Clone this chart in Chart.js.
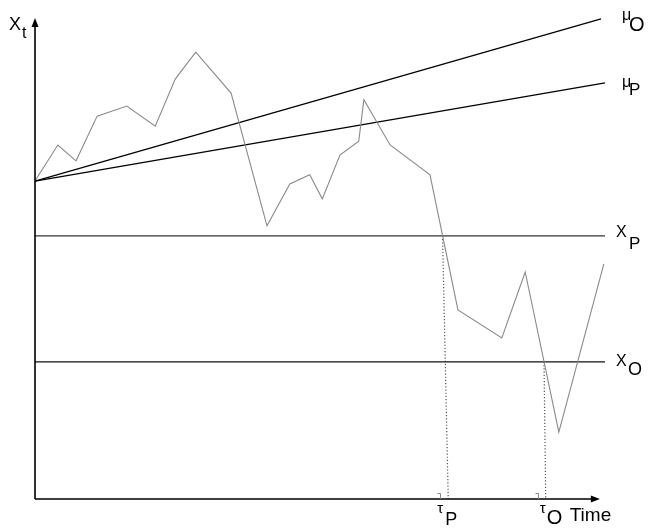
<!DOCTYPE html>
<html>
<head>
<meta charset="utf-8">
<title>Threshold crossing times</title>
<script src="https://cdn.jsdelivr.net/npm/chart.js@4/dist/chart.umd.min.js"></script>
<style>
  html, body { margin: 0; padding: 0; background: #fff; }
  canvas { display: block; }
</style>
</head>
<body>
<canvas id="chart" width="649" height="530"></canvas>
<script>
// Sample path of the process X_t over time
const pathTime  = [0, 4.0, 7.2, 10.9, 16.1, 21.1, 24.6, 28.2, 34.4, 40.7, 44.7, 48.2, 50.4, 53.5, 56.8, 57.7, 62.3, 69.3, 74.2, 81.9, 86.0, 91.9, 99.8];
const pathValue = [66.1, 73.6, 70.3, 79.6, 81.7, 77.5, 87.3, 92.9, 84.4, 56.8, 65.5, 67.4, 62.4, 71.5, 74.4, 83.0, 73.6, 67.4, 39.3, 33.5, 47.2, 13.9, 48.9];

// Drift lines mu_O and mu_P, both starting from X_0
const startValue = 66.1;
const muOEnd = [99.3, 99.8];   // [time, value]
const muPEnd = [100, 86.5];

// Thresholds X_P and X_O
const thresholdP = 54.7;
const thresholdO = 28.5;
const thresholdEnd = 100;

// First-passage times: [time at crossing, time at axis]
const tauP = [71.5, 72.5];
const tauO = [89.3, 89.6];

// Axis extent (arrow tips)
const axisEndTime = 99.1;
const axisEndValue = 100;

const FONT = '"Liberation Sans", Arial, Helvetica, sans-serif';

function line(points, color, width, dash) {
  return {
    data: points.map(p => ({ x: p[0], y: p[1] })),
    showLine: true,
    borderColor: color,
    borderWidth: width,
    borderDash: dash || [],
    pointRadius: 0,
    fill: false,
    tension: 0,
    clip: false
  };
}

const pathPoints = pathTime.map((t, i) => [t, pathValue[i]]);

const annotations = {
  id: 'annotations',
  afterDatasetsDraw(chart) {
    const ctx = chart.ctx;
    const xs = chart.scales.x, ys = chart.scales.y;
    const x0 = xs.getPixelForValue(0), y0 = ys.getPixelForValue(0);
    const xEnd = xs.getPixelForValue(axisEndTime), yEnd = ys.getPixelForValue(axisEndValue);
    ctx.save();

    // axes
    ctx.strokeStyle = '#000';
    ctx.fillStyle = '#000';
    ctx.lineWidth = 1.6;
    ctx.beginPath();
    ctx.moveTo(x0, y0); ctx.lineTo(x0, yEnd + 6);
    ctx.moveTo(x0, y0); ctx.lineTo(xEnd - 6, y0);
    ctx.stroke();
    ctx.beginPath();
    ctx.moveTo(x0, yEnd); ctx.lineTo(x0 - 3.5, yEnd + 9); ctx.lineTo(x0 + 3.5, yEnd + 9); ctx.closePath();
    ctx.fill();
    ctx.beginPath();
    ctx.moveTo(xEnd, y0); ctx.lineTo(xEnd - 9, y0 - 3.5); ctx.lineTo(xEnd - 9, y0 + 3.5); ctx.closePath();
    ctx.fill();

    // small tick brackets next to the passage times
    ctx.strokeStyle = '#888';
    ctx.lineWidth = 1;
    [tauP, tauO].forEach(t => {
      const px = Math.round(xs.getPixelForValue(t[1])) - 7.5;
      ctx.beginPath();
      ctx.moveTo(px - 3, y0 - 5.5);
      ctx.lineTo(px, y0 - 5.5);
      ctx.lineTo(px, y0);
      ctx.stroke();
    });

    // labels: main glyph plus subscript
    function label(main, sub, x, yBase, mainSize, subSize, subDx, subDy) {
      ctx.fillStyle = '#000';
      ctx.textBaseline = 'alphabetic';
      ctx.textAlign = 'left';
      ctx.font = mainSize + 'px ' + FONT;
      ctx.fillText(main, x, yBase);
      ctx.font = subSize + 'px ' + FONT;
      ctx.fillText(sub, x + subDx, yBase + subDy);
    }

    label('X', 't', x0 - 26, yEnd + 12, 18, 16, 13, 8);

    const muOx = xs.getPixelForValue(muOEnd[0]), muOy = ys.getPixelForValue(muOEnd[1]);
    label('\u03bc', 'O', muOx + 21, muOy + 1, 16, 20, 7, 11);
    const muPx = xs.getPixelForValue(muPEnd[0]), muPy = ys.getPixelForValue(muPEnd[1]);
    label('\u03bc', 'P', muPx + 17, muPy + 4, 16, 17, 7, 8);

    const thX = xs.getPixelForValue(thresholdEnd);
    label('X', 'P', thX + 11, ys.getPixelForValue(thresholdP) + 1, 16, 17, 13, 12);
    label('X', 'O', thX + 11, ys.getPixelForValue(thresholdO) + 4, 16, 18, 12, 9);

    const tpx = xs.getPixelForValue(tauP[1]);
    label('\u03c4', 'P', tpx - 11, y0 + 14, 15, 18, 8, 12);
    const tox = xs.getPixelForValue(tauO[1]);
    label('\u03c4', 'O', tox - 6, y0 + 14, 15, 20, 7, 11);
    ctx.font = '19px ' + FONT;
    ctx.fillText('Time', tox + 24, y0 + 22);

    ctx.restore();
  }
};

new Chart(document.getElementById('chart'), {
  type: 'scatter',
  data: {
    datasets: [
      line(pathPoints, '#8a8a8a', 1.1),
      line([[0, startValue], muOEnd], '#000', 1.3),
      line([[0, startValue], muPEnd], '#000', 1.3),
      line([[0, thresholdP], [thresholdEnd, thresholdP]], '#333', 1.4),
      line([[0, thresholdO], [thresholdEnd, thresholdO]], '#111', 1.4),
      line([[tauP[0], thresholdP], [tauP[1], 0]], '#555', 1.2, [1.2, 2]),
      line([[tauO[0], thresholdO], [tauO[1], 0]], '#555', 1.2, [1.2, 2])
    ]
  },
  options: {
    responsive: false,
    devicePixelRatio: 1,
    animation: false,
    layout: { padding: { left: 35, right: 44, top: 18, bottom: 31 } },
    scales: {
      x: { type: 'linear', min: 0, max: 100, display: false },
      y: { type: 'linear', min: 0, max: 100, display: false }
    },
    plugins: { legend: { display: false }, tooltip: { enabled: false } }
  },
  plugins: [annotations]
});
</script>
</body>
</html>
